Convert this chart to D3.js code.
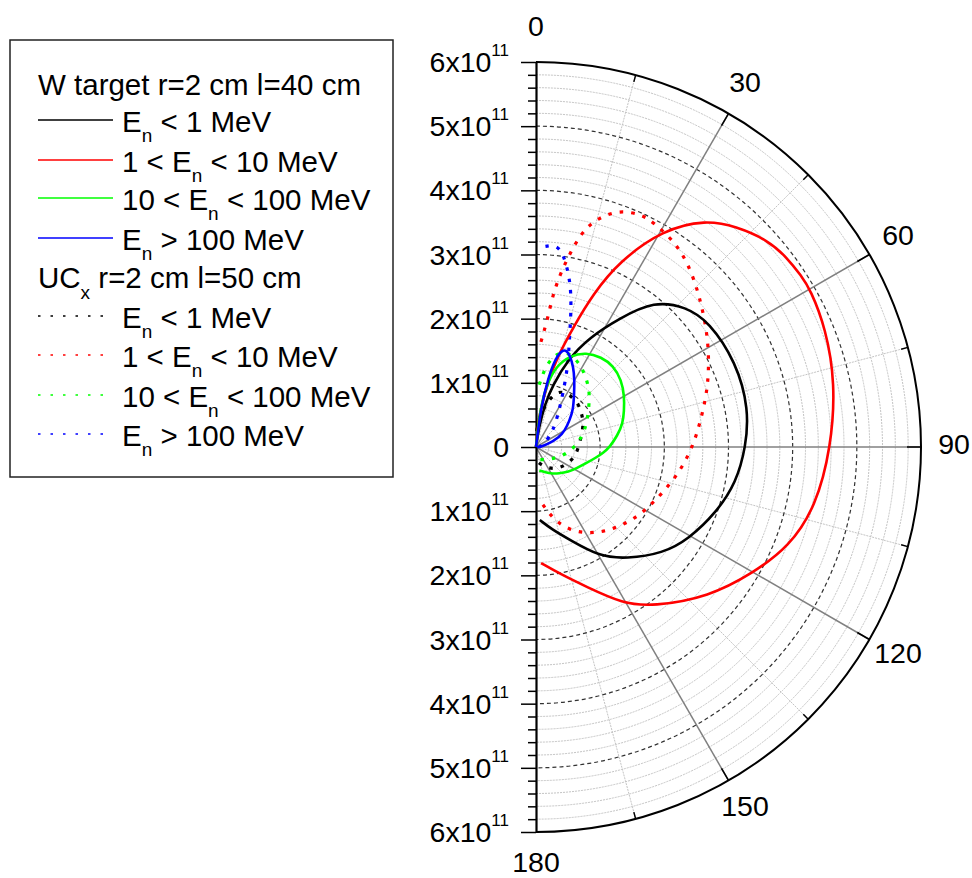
<!DOCTYPE html>
<html lang="en">
<head>
<meta charset="UTF-8">
<title>polar</title>
<script src="https://cdn.jsdelivr.net/npm/d3@7"></script>
<style>
  body { margin: 0; background: #fff; }
  text { font-family: "Liberation Sans", Arial, sans-serif; fill: #000; }
</style>
</head>
<body>
<script>
// angles in degrees (0 = top, 90 = right), values in units of 1e11
// W target r=2 cm l=40 cm (solid)
var wLowAng  = [0, 8, 12, 15, 20, 26, 33, 39, 47, 54, 67, 80, 90, 100, 110, 121, 130, 141, 150, 160, 169, 177];
var wLowVal  = [0, 0.3, 0.7, 0.98, 1.45, 1.9, 2.39, 2.93, 3.2, 3.33, 3.39, 3.37, 3.27, 3.17, 2.99, 2.78, 2.58, 2.24, 1.97, 1.54, 1.31, 1.14];
var wMidAng  = [0, 5, 10.4, 13.5, 17.2, 20.5, 24.2, 30.3, 36.8, 42.2, 48.2, 52.8, 57.2, 60.2, 67.7, 78, 90, 102, 111.5, 120.2, 130.8, 143.8, 151, 160.3, 169, 177.5];
var wMidVal  = [0, 0.5, 1.06, 1.45, 1.94, 2.55, 3.17, 3.92, 4.42, 4.64, 4.84, 4.9, 4.92, 4.93, 4.88, 4.77, 4.6, 4.46, 4.24, 3.91, 3.57, 3.08, 2.79, 2.31, 2.02, 1.81];
var wHighAng = [0, 6, 9.5, 14, 20.5, 28, 36, 43.5, 52, 60, 68, 75, 82, 90, 95, 100, 108, 118, 127, 140, 148, 160, 172];
var wHighVal = [0, 0.55, 0.98, 1.3, 1.52, 1.67, 1.73, 1.75, 1.69, 1.59, 1.48, 1.4, 1.28, 1.15, 1.05, 0.95, 0.82, 0.71, 0.64, 0.54, 0.49, 0.42, 0.37];
var wTopAng  = [0, 7, 10, 12.5, 15, 17.5, 20, 25, 30, 36, 45, 52, 60, 67, 79, 90, 100];
var wTopVal  = [0, 0.6, 1.1, 1.42, 1.56, 1.58, 1.53, 1.38, 1.2, 1.01, 0.82, 0.66, 0.52, 0.4, 0.17, 0.05, 0.02];
// UCx r=2 cm l=50 cm (dotted)
var uLowAng  = [2.5, 6, 11.7, 17.8, 24, 34, 45, 52, 62, 73, 83, 94, 105, 119, 135, 151, 167, 175];
var uLowVal  = [0.25, 0.45, 0.64, 0.85, 0.96, 0.97, 0.94, 0.89, 0.84, 0.75, 0.69, 0.65, 0.62, 0.55, 0.48, 0.38, 0.27, 0.22];
var uMidAng  = [2.7, 5.2, 6.3, 8.1, 11, 12.9, 15.1, 19.4, 24.7, 27.4, 33.4, 39.3, 47.1, 58.7, 71.2, 82.3, 88, 96.3, 105, 115.8, 124.4, 134.5, 144.5, 155, 165.2, 173.4];
var uMidVal  = [1.64, 2.01, 2.38, 2.76, 3.26, 3.5, 3.69, 3.92, 3.98, 3.95, 3.87, 3.73, 3.48, 3.16, 2.84, 2.57, 2.47, 2.33, 2.18, 2.02, 1.92, 1.79, 1.65, 1.47, 1.22, 0.9];
var uHighAng = [3, 7, 13, 20, 28, 34, 41, 47, 55, 63, 70, 78, 86, 98, 110, 129, 150, 168];
var uHighVal = [0.97, 1.3, 1.52, 1.56, 1.46, 1.36, 1.25, 1.14, 1.0, 0.89, 0.81, 0.72, 0.64, 0.52, 0.42, 0.3, 0.23, 0.2];
var uTopAng  = [2.7, 5.7, 8.2, 11.1, 13, 15, 18, 21.9, 27.1, 32, 38.3, 45, 52, 62, 73, 90];
var uTopVal  = [3.13, 3.17, 3.03, 2.7, 2.43, 2.1, 1.67, 1.32, 0.91, 0.68, 0.5, 0.37, 0.26, 0.17, 0.11, 0.05];

var angleTicks = [0, 30, 60, 90, 120, 150, 180];
var radTicks = [-6, -5, -4, -3, -2, -1, 0, 1, 2, 3, 4, 5, 6];
var groupTitles = [["W target r=2 cm l=40 cm"], ["UC", "x", " r=2 cm l=50 cm"]];
var rangeLabels = [["E", "n", " < 1 MeV"], ["1 < E", "n", " < 10 MeV"], ["10 < E", "n", " < 100 MeV"], ["E", "n", " > 100 MeV"]];
var colors = ["#000000", "#ff0000", "#00ff00", "#0000ff"];

var width = 972, height = 878;
var cx = 536, cy = 447, R = 385;

var svg = d3.select("body").append("svg").attr("width", width).attr("height", height);

var rScale = d3.scaleLinear().domain([0, 6]).range([0, R]);
var aScale = d3.scaleLinear().domain([0, 180]).range([0, Math.PI]);
var yScale = d3.scaleLinear().domain([-6, 6]).range([R, -R]);

var g = svg.append("g").attr("transform", "translate(" + cx + "," + cy + ")");

function half(r) {
  var p = d3.path();
  p.moveTo(0, -r);
  p.arc(0, 0, r, -Math.PI / 2, Math.PI / 2);
  return p.toString();
}
function pt(a, r) {
  var t = aScale(a);
  return [r * Math.sin(t), -r * Math.cos(t)];
}

// minor circles
var minorR = d3.range(1, 30).filter(function (i) { return i % 5; }).map(function (i) { return i * 0.2; });
g.selectAll(".minc").data(minorR).enter().append("path")
  .attr("d", function (d) { return half(rScale(d)); })
  .attr("fill", "none").attr("stroke", "#c4c4c4").attr("stroke-width", 1).attr("stroke-dasharray", "2,1");

// minor spokes
g.selectAll(".mins").data([15, 45, 75, 105, 135, 165]).enter().append("line")
  .attr("x1", 0).attr("y1", 0)
  .attr("x2", function (d) { return pt(d, R)[0]; })
  .attr("y2", function (d) { return pt(d, R)[1]; })
  .attr("stroke", "#c4c4c4").attr("stroke-width", 1).attr("stroke-dasharray", "2,1");

// major circles
g.selectAll(".majc").data([1, 2, 3, 4, 5]).enter().append("path")
  .attr("d", function (d) { return half(rScale(d)); })
  .attr("fill", "none").attr("stroke", "#333").attr("stroke-width", 1.2).attr("stroke-dasharray", "4,3");

// major spokes
g.selectAll(".majs").data([30, 60, 90, 120, 150]).enter().append("line")
  .attr("x1", 0).attr("y1", 0)
  .attr("x2", function (d) { return pt(d, R)[0]; })
  .attr("y2", function (d) { return pt(d, R)[1]; })
  .attr("stroke", "#808080").attr("stroke-width", 1.5);

// outer arc
g.append("path").attr("d", half(R)).attr("fill", "none").attr("stroke", "#000").attr("stroke-width", 2);

// outer ticks
g.selectAll(".otick").data(d3.range(15, 180, 15)).enter().append("line")
  .attr("x1", function (d) { return pt(d, R - (d % 30 ? 7 : 14))[0]; })
  .attr("y1", function (d) { return pt(d, R - (d % 30 ? 7 : 14))[1]; })
  .attr("x2", function (d) { return pt(d, R)[0]; })
  .attr("y2", function (d) { return pt(d, R)[1]; })
  .attr("stroke", "#000").attr("stroke-width", 1.5);

// radial axis (vertical)
var minorAxis = g.append("g").call(d3.axisLeft(yScale)
  .tickValues(d3.range(-30, 31).filter(function (i) { return i % 5; }).map(function (i) { return i / 5; }))
  .tickSize(8).tickSizeOuter(0).tickFormat(""));
minorAxis.select(".domain").remove();
var majorAxis = g.append("g").call(d3.axisLeft(yScale).tickValues(radTicks).tickSize(15).tickSizeOuter(0).tickFormat(""));
g.selectAll(".tick line").attr("stroke", "#000").attr("stroke-width", 1.5);
majorAxis.select(".domain").attr("stroke", "#000").attr("stroke-width", 2.2);

// radial labels
var rl = g.selectAll(".rlab").data(radTicks).enter().append("text")
  .attr("x", -27).attr("y", function (d) { return yScale(d) + 10; })
  .attr("text-anchor", "end").attr("font-size", 28.5);
rl.append("tspan").text(function (d) { return d === 0 ? "0" : Math.abs(d) + "x10"; });
rl.filter(function (d) { return d !== 0; }).append("tspan")
  .attr("dy", -16).attr("font-size", 17).text("11");

// angle labels
g.selectAll(".alab").data(angleTicks).enter().append("text")
  .attr("x", function (d) { return pt(d, 418)[0]; })
  .attr("y", function (d) { return pt(d, 418)[1] - 3; })
  .attr("dy", "0.36em").attr("text-anchor", "middle").attr("font-size", 28.5)
  .text(function (d) { return d; });

// curves
var line = d3.lineRadial()
  .angle(function (d) { return aScale(d[0]); })
  .radius(function (d) { return rScale(d[1]); })
  .curve(d3.curveBasis);

var solid = [[wLowAng, wLowVal], [wMidAng, wMidVal], [wHighAng, wHighVal], [wTopAng, wTopVal]];
var dotted = [[uLowAng, uLowVal], [uMidAng, uMidVal], [uHighAng, uHighVal], [uTopAng, uTopVal]];

dotted.forEach(function (s, i) {
  g.append("path").datum(d3.zip(s[0], s[1]))
    .attr("d", line).attr("fill", "none").attr("stroke", colors[i])
    .attr("stroke-width", 3.2).attr("stroke-dasharray", "3.5,8");
});
solid.forEach(function (s, i) {
  g.append("path").datum(d3.zip(s[0], s[1]))
    .attr("d", line).attr("fill", "none").attr("stroke", colors[i])
    .attr("stroke-width", 2.6).attr("stroke-linejoin", "round");
});

// legend
var leg = svg.append("g");
leg.append("rect").attr("x", 10).attr("y", 40).attr("width", 383).attr("height", 437)
  .attr("fill", "#fff").attr("stroke", "#222").attr("stroke-width", 1.5);

function richText(sel, parts, subDy) {
  sel.append("tspan").text(parts[0]);
  if (parts.length > 1) {
    sel.append("tspan").attr("dy", subDy).attr("font-size", 19).text(parts[1]);
    sel.append("tspan").attr("dy", -subDy).text(parts[2]);
  }
}

var baselines = [[95, 132, 172, 210, 250], [288, 328, 367, 407, 446]];
groupTitles.forEach(function (t, gi) {
  var b = baselines[gi];
  richText(leg.append("text").attr("x", 38).attr("y", b[0]).attr("font-size", 29.5), t, 11);
  rangeLabels.forEach(function (lab, i) {
    var ln = leg.append("line").attr("x1", 38).attr("x2", 113)
      .attr("y1", b[i + 1] - 12).attr("y2", b[i + 1] - 12)
      .attr("stroke", colors[i]).attr("stroke-width", 1.6);
    if (gi === 1) ln.attr("stroke-dasharray", "2.5,10");
    richText(leg.append("text").attr("x", 122).attr("y", b[i + 1]).attr("font-size", 29.5), lab, 10);
  });
});
</script>
</body>
</html>
